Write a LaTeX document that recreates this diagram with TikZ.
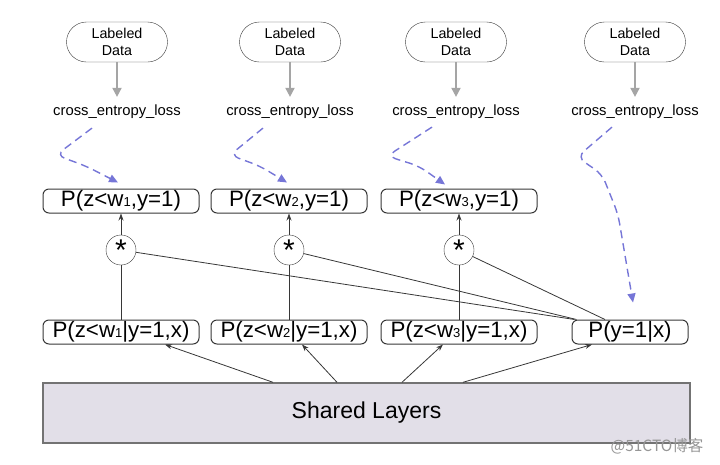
\documentclass[tikz,border=0pt]{standalone}
\usepackage{fontspec}
\setmainfont{Liberation Sans}
\newfontfamily\cjk{Noto Sans CJK SC}
\usepackage{xcolor}
\usetikzlibrary{arrows.meta}
\definecolor{boxgray}{RGB}{55, 55, 55}
\definecolor{feedgray}{RGB}{165, 165, 165}
\definecolor{lossblue}{RGB}{118, 118, 215}
\definecolor{sharedfill}{RGB}{226, 223, 232}
\definecolor{sharedline}{RGB}{115, 115, 115}
\definecolor{markgray}{RGB}{150, 150, 150}
\newcommand{\wsub}[1]{{\fontsize{13}{13}\selectfont #1}}

\begin{document}
\begin{tikzpicture}[x=1pt, y=1pt, node distance=70pt, every node/.style={align=center},
  databox/.style={draw=boxgray, rounded corners=20pt, minimum width=101pt, minimum height=40pt, inner sep=2pt, font=\fontsize{14.3}{17}\selectfont},
  lossnode/.style={inner sep=2pt, font=\fontsize{14.8}{16}\selectfont},
  probbox/.style={draw=boxgray, line width=1pt, rounded corners=6pt, minimum width=156pt, minimum height=24pt, inner xsep=8pt, inner ysep=1pt, font=\fontsize{22.3}{24}\selectfont},
  mulnode/.style={draw=boxgray, circle, minimum size=30pt, inner sep=0pt, font=\fontsize{30}{30}\selectfont},
  sharedbox/.style={draw=sharedline, line width=1.4pt, fill=sharedfill, minimum width=647pt, minimum height=60pt, font=\fontsize{23}{26}\selectfont},
  feedarrow/.style={-{Triangle[length=9pt, width=9pt]}, feedgray, line width=1.8pt, shorten >=6pt},
  lossarrow/.style={-{Triangle[length=9pt, width=8pt]}, lossblue, line width=1.4pt, dash pattern=on 8pt off 5pt, rounded corners=9pt},
  flowarrow/.style={-{Stealth[length=7pt, width=5pt]}, boxgray, line width=0.8pt},
  link/.style={boxgray, line width=0.8pt}]
  \useasboundingbox (0,0) rectangle (720,-464);

  % Nodes
  \node[databox] (data1) at (117,-42) {Labeled\\Data};
  \node[databox] (data2) at (290,-42) {Labeled\\Data};
  \node[databox] (data3) at (456,-42) {Labeled\\Data};
  \node[databox] (data4) at (635,-42) {Labeled\\Data};
  \node[lossnode, below of=data1] (loss1) {cross\_entropy\_loss};
  \node[lossnode, below of=data2] (loss2) {cross\_entropy\_loss};
  \node[lossnode, below of=data3] (loss3) {cross\_entropy\_loss};
  \node[lossnode, below of=data4] (loss4) {cross\_entropy\_loss};
  \node[probbox] (joint1) at (121,-201) {P(z<w\wsub{1},y=1)};
  \node[probbox] (joint2) at (289,-201) {P(z<w\wsub{2},y=1)};
  \node[probbox] (joint3) at (459,-201) {P(z<w\wsub{3},y=1)};
  \node[mulnode, below of=joint1, yshift=21pt] (mul1) {*};
  \node[mulnode, below of=joint2, yshift=21pt] (mul2) {*};
  \node[mulnode, below of=joint3, yshift=21pt] (mul3) {*};
  \node[probbox] (cond1) at (121,-332) {P(z<w\wsub{1}|y=1,x)};
  \node[probbox] (cond2) at (289,-332) {P(z<w\wsub{2}|y=1,x)};
  \node[probbox] (cond3) at (459,-332) {P(z<w\wsub{3}|y=1,x)};
  \node[probbox, minimum width=116pt] (py) at (630,-332) {P(y=1|x)};
  \node[sharedbox] (shared) at (366.5,-413) {Shared Layers};
  \node[text=markgray, font=\cjk\fontsize{15.5}{15.5}\selectfont] (mark) at (657,-446) {@51CTO博客};

  % Arrows
  \draw[feedarrow] (data1) -- (loss1);
  \draw[feedarrow] (data2) -- (loss2);
  \draw[feedarrow] (data3) -- (loss3);
  \draw[feedarrow] (data4) -- (loss4);
  \draw[lossarrow] ([xshift=-25pt, yshift=-7pt]loss1.south) -- ++(-36,-27) -- ++(30,-11) -- ([xshift=-3pt, yshift=6pt]joint1.north);
  \draw[lossarrow] ([xshift=-27pt, yshift=-7pt]loss2.south) -- ++(-33,-27) -- ++(30,-11) -- ([xshift=-2pt, yshift=6pt]joint2.north);
  \draw[lossarrow] ([xshift=-24pt, yshift=-6pt]loss3.south) -- ++(-45,-29) -- ++(32,-10) -- ([xshift=-14pt, yshift=4pt]joint3.north);
  \draw[lossarrow] ([xshift=-23pt, yshift=-6pt]loss4.south) -- ++(-35,-30) -- ++(25,-17) -- ++(16,-40) -- ([xshift=3pt, yshift=17pt]py.north);
  \draw[flowarrow] (mul1) -- (joint1);
  \draw[flowarrow] (mul2) -- (joint2);
  \draw[flowarrow] (mul3) -- (joint3);
  \draw[link] (cond1) -- (mul1);
  \draw[link] (cond2) -- (mul2);
  \draw[link] (cond3) -- (mul3);
  \draw[link] (mul1) -- ([xshift=3pt]py.north west);
  \draw[link] (mul2) -- ([xshift=5pt]py.north west);
  \draw[link] (mul3) -- ([xshift=-25pt]py.north);
  \draw[flowarrow] ([xshift=-93.5pt]shared.north) -- ([xshift=44pt]cond1.south);
  \draw[flowarrow] ([xshift=-29.5pt]shared.north) -- ([xshift=13pt]cond2.south);
  \draw[flowarrow] ([xshift=35.5pt]shared.north) -- ([xshift=-16pt]cond3.south);
  \draw[flowarrow] ([xshift=96.5pt]shared.north) -- ([xshift=-38pt]py.south);
\end{tikzpicture}
\end{document}
